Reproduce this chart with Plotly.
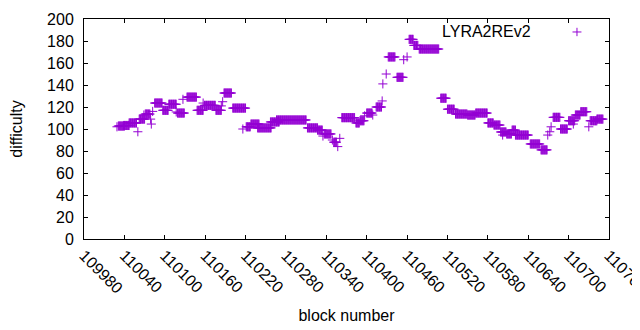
import plotly.graph_objects as go

# Runs of blocks: first block, last block, difficulty
run_first_block = [
    110029, 110031, 110039, 110047, 110060, 110062, 110069, 110071, 110079, 110080,
    110082, 110085, 110097, 110106, 110117, 110119, 110127, 110133, 110148, 110157,
    110159, 110176, 110184, 110186, 110188, 110201, 110216, 110221, 110228, 110238,
    110257, 110266, 110312, 110327, 110335, 110337, 110349, 110351, 110357, 110360,
    110363, 110384, 110390, 110397, 110400, 110409, 110414, 110423, 110424, 110429,
    110432, 110445, 110455, 110460, 110463, 110470, 110478, 110510, 110520, 110532,
    110550, 110562, 110580, 110589, 110599, 110602, 110608, 110616, 110621, 110643,
    110659, 110669, 110672, 110674, 110677, 110688, 110700, 110707, 110710, 110718,
    110730, 110732, 110742,
]
run_last_block = [
    110029, 110040, 110047, 110058, 110060, 110070, 110069, 110078, 110079, 110080,
    110082, 110096, 110105, 110117, 110117, 110129, 110127, 110147, 110157, 110157,
    110175, 110184, 110184, 110186, 110199, 110220, 110216, 110227, 110240, 110258,
    110270, 110310, 110327, 110334, 110335, 110347, 110349, 110355, 110357, 110360,
    110382, 110389, 110396, 110397, 110408, 110409, 110422, 110423, 110424, 110429,
    110442, 110454, 110455, 110460, 110469, 110476, 110507, 110518, 110530, 110549,
    110561, 110579, 110588, 110598, 110607, 110602, 110615, 110621, 110640, 110657,
    110668, 110669, 110672, 110674, 110687, 110698, 110709, 110707, 110717, 110727,
    110730, 110742, 110751,
]
run_difficulty = [
    102, 102.7, 103.2, 105.5, 97.5, 109, 112.7, 113.6, 109, 104.5,
    116, 123.6, 117, 122.5, 115.5, 114.5, 127, 129, 117, 123.6,
    121.5, 117, 121, 124.8, 132.7, 119, 100, 102, 104.5, 101,
    106.4, 108.2, 101, 99, 93.6, 95.5, 90, 88, 84, 91.5,
    110.3, 105.5, 107.5, 112, 114.5, 112.7, 120, 125.5, 141, 150,
    165.5, 147, 163, 165.5, 181.5, 176, 172.7, 128, 118, 113.6,
    112.7, 114.5, 105.5, 103.6, 97.3, 94.5, 95.5, 99, 94.5, 86.4,
    81, 94.5, 97.5, 102, 110.6, 100, 107.5, 104.5, 112.7, 115.7,
    102, 107.5, 109,
]

x_ticks = [109980, 110040, 110100, 110160, 110220, 110280, 110340, 110400,
           110460, 110520, 110580, 110640, 110700, 110760]
y_ticks = [0, 20, 40, 60, 80, 100, 120, 140, 160, 180, 200]

series_name = "LYRA2REv2"
color = "#9400D3"

blocks, diffs = [], []
for a, b, v in zip(run_first_block, run_last_block, run_difficulty):
    for blk in range(a, b + 1):
        blocks.append(blk)
        diffs.append(v)

font = dict(family="Liberation Sans, Arial, sans-serif", size=16, color="black")

fig = go.Figure()
fig.add_trace(go.Scatter(
    x=blocks, y=diffs, mode="markers", name=series_name, showlegend=False,
    marker=dict(symbol="cross-thin", size=6.5, line=dict(width=1, color=color), color=color),
))

axis_common = dict(
    showline=True, linecolor="black", linewidth=1, mirror="allticks",
    ticks="inside", ticklen=4, tickcolor="black", tickwidth=1,
    showgrid=False, zeroline=False, tickfont=font, ticklabeloverflow="allow",
)
# the page body has an 8px default margin, so the figure is offset by 8px
fig.update_layout(
    width=632, height=322,
    margin=dict(l=76, r=31, t=11, b=91),
    paper_bgcolor="white", plot_bgcolor="white",
    font=font,
    xaxis=dict(range=[x_ticks[0], x_ticks[-1]], tickvals=x_ticks, tickformat="d", tickangle=45,
               title=dict(text="block number", font=font, standoff=13), automargin=False,
               **axis_common),
    yaxis=dict(range=[y_ticks[0], y_ticks[-1]], tickvals=y_ticks, tickformat="d",
               title=dict(text="difficulty", font=font, standoff=21), automargin=False,
               ticklabelstandoff=6, **axis_common),
    annotations=[dict(text=series_name, xref="paper", yref="paper", x=0.856, y=0.941,
                      xanchor="right", yanchor="middle", showarrow=False, font=font)],
    shapes=[
        dict(type="line", xref="paper", yref="paper", x0=0.9305, x1=0.9475, y0=0.941, y1=0.941,
             line=dict(color=color, width=1)),
        dict(type="line", xref="paper", yref="paper", x0=0.939, x1=0.939, y0=0.922, y1=0.960,
             line=dict(color=color, width=1)),
    ],
)
fig.write_html("out.html")
